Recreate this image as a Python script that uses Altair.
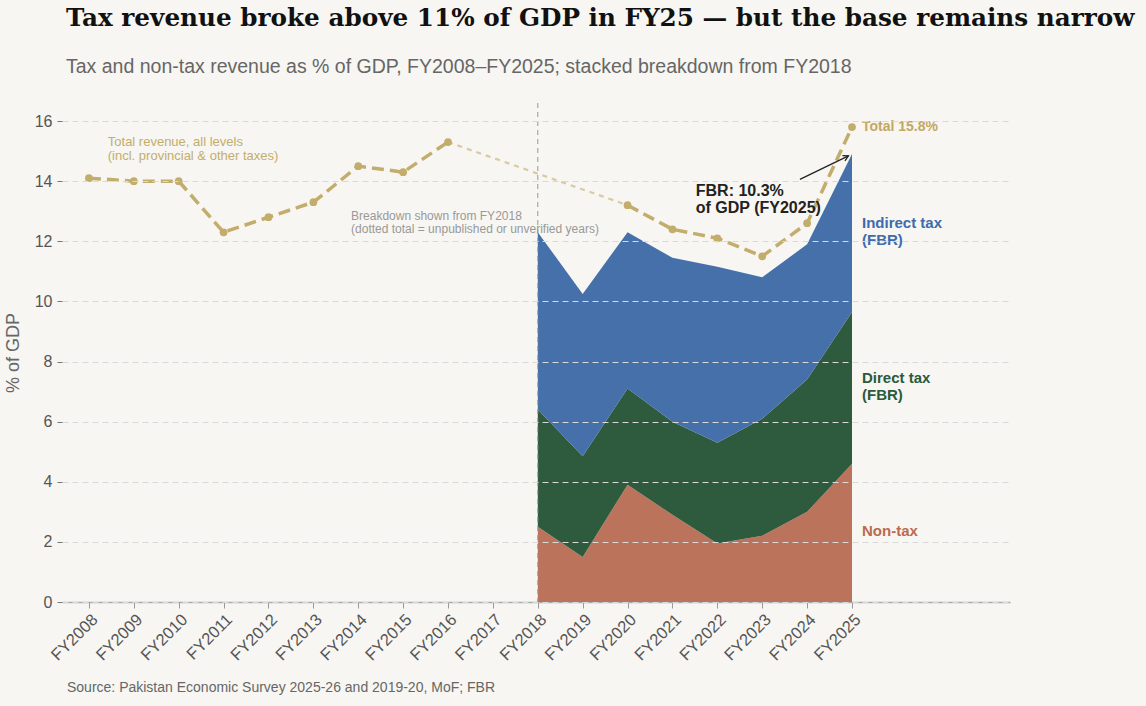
import altair as alt
import pandas as pd

# Total revenue (% of GDP), all levels of government
total_years = [2008, 2009, 2010, 2011, 2012, 2013, 2014, 2015, 2016,
               2020, 2021, 2022, 2023, 2024, 2025]
total_values = [14.1, 14.0, 14.0, 12.3, 12.8, 13.3, 14.5, 14.3, 15.3,
                13.2, 12.4, 12.1, 11.5, 12.6, 15.8]

# Stacked breakdown from FY2018 (% of GDP)
stack_years = [2018, 2019, 2020, 2021, 2022, 2023, 2024, 2025]
non_tax = [2.5, 1.5, 3.9, 2.9, 1.95, 2.2, 3.0, 4.6]
direct_tax = [3.9, 3.35, 3.2, 3.1, 3.35, 3.9, 4.4, 5.05]
indirect_tax = [5.9, 5.4, 5.2, 5.45, 5.85, 4.7, 4.5, 5.25]

components = ["Non-tax", "Direct tax", "Indirect tax"]
component_colors = ["#bc735b", "#2e5a3d", "#4570aa"]

tick_years = list(range(2008, 2026))
y_ticks = list(range(0, 17, 2))

GOLD = "#c3ad6c"
BG = "#f7f6f2"

x_scale = alt.Scale(domain=[2007.4, 2028.52], nice=False, zero=False)
y_scale = alt.Scale(domain=[0, 16.6], nice=False)

x_axis = alt.Axis(values=tick_years, labelExpr="'FY' + datum.value", labelAngle=-45,
                  labelOverlap=False, title=None, grid=False, tickColor="#999",
                  tickSize=6, domainColor="#aaa", domainWidth=1.5, labelColor="#555",
                  labelFontSize=16.5, labelPadding=3)
y_axis = alt.Axis(values=y_ticks, title="% of GDP", grid=True, gridDash=[6, 4],
                  gridColor="#d9d9d9", gridWidth=1, domain=False, tickColor="#777",
                  tickSize=5, labelColor="#555", labelFontSize=16, labelPadding=5,
                  titleColor="#666", titleFontSize=18, titleFontWeight="normal",
                  titlePadding=12, zindex=1)

X = alt.X("year:Q", scale=x_scale, axis=x_axis)
Y = alt.Y("value:Q", scale=y_scale, axis=y_axis)

# --- stacked areas ---
rows = []
for order, (name, series) in enumerate(zip(components, [non_tax, direct_tax, indirect_tax])):
    for yr, v in zip(stack_years, series):
        rows.append({"year": yr, "value": v, "component": name, "order": order})
stack_df = pd.DataFrame(rows)

areas = alt.Chart(stack_df).mark_area(opacity=1, interpolate="linear").encode(
    x=X,
    y=alt.Y("value:Q", stack="zero", scale=y_scale, axis=y_axis),
    color=alt.Color("component:N", scale=alt.Scale(domain=components, range=component_colors),
                    legend=None),
    order=alt.Order("order:Q", sort="ascending"),
)

# --- total revenue line ---
total_df = pd.DataFrame({"year": total_years, "value": total_values})
total_df["segment"] = ["early" if y <= 2016 else "late" for y in total_years]

total_line = alt.Chart(total_df).mark_line(
    color=GOLD, strokeWidth=3.5, strokeDash=[12, 6]
).encode(x=X, y=Y, detail="segment:N")

gap_df = total_df[total_df["year"].isin([2016, 2020])]
gap_line = alt.Chart(gap_df).mark_line(
    color=GOLD, strokeWidth=2.2, strokeDash=[5, 5], opacity=0.6
).encode(x=X, y=Y)

total_points = alt.Chart(total_df).mark_circle(color=GOLD, size=60, opacity=1).encode(x=X, y=Y)

# --- FY2018 divider ---
divider = alt.Chart(pd.DataFrame({"year": [2018]})).mark_rule(
    color="#999", strokeDash=[5, 4], strokeWidth=1
).encode(x=X)

# --- annotation arrow to the FBR share ---
arrow_df = pd.DataFrame({"year": [2023.84], "value": [14.06],
                         "year2": [2024.92], "value2": [14.84]})
arrow_line = alt.Chart(arrow_df).mark_rule(color="#222", strokeWidth=1.2).encode(
    x=X, y=Y, x2="year2:Q", y2="value2:Q")
arrow_head = alt.Chart(pd.DataFrame({"year": [2024.92], "value": [14.84]})).mark_point(
    shape="M -0.55 1 L 0 0 L 0.55 1", filled=False, angle=64, size=110,
    strokeWidth=1.3, color="#222", opacity=1
).encode(x=X, y=Y)


def text_layer(rows, **mark):
    df = pd.DataFrame(rows, columns=["label", "year", "value"])
    return alt.Chart(df).mark_text(align="left", baseline="middle", **mark).encode(
        x=X, y=Y, text="label:N")


fbr_share = direct_tax[-1] + indirect_tax[-1]

notes_total = text_layer(
    [["Total revenue, all levels", 2008.42, 15.31],
     ["(incl. provincial & other taxes)", 2008.42, 14.85]],
    fontSize=13, color=GOLD)
notes_breakdown = text_layer(
    [["Breakdown shown from FY2018", 2013.84, 12.83],
     ["(dotted total = unpublished or unverified years)", 2013.84, 12.40]],
    fontSize=12, color="#999")
notes_fbr = text_layer(
    [[f"FBR: {fbr_share:.1f}%", 2021.52, 13.68],
     ["of GDP (FY2025)", 2021.52, 13.11]],
    fontSize=16, fontWeight="bold", color="#222")
label_total = text_layer(
    [[f"Total {total_values[-1]}%", 2025, total_values[-1]]],
    fontSize=14, fontWeight="bold", color="#c2a862", dx=10)
label_indirect = text_layer(
    [["Indirect tax", 2025, 12.61], ["(FBR)", 2025, 12.04]],
    fontSize=15, fontWeight="bold", color="#3d6bab", dx=10)
label_direct = text_layer(
    [["Direct tax", 2025, 7.45], ["(FBR)", 2025, 6.89]],
    fontSize=15, fontWeight="bold", color="#2a5a3a", dx=10)
label_nontax = text_layer(
    [["Non-tax", 2025, 2.36]],
    fontSize=15, fontWeight="bold", color="#bc6a4f", dx=10)

source = alt.Chart(pd.DataFrame({"label": ["Source: Pakistan Economic Survey 2025-26 and 2019-20, MoF; FBR"]})).mark_text(
    align="left", baseline="middle", fontSize=14, color="#666"
).encode(x=alt.value(5), y=alt.value(585), text="label:N")

chart = alt.layer(
    areas, divider, gap_line, total_line, total_points, arrow_line, arrow_head,
    notes_total, notes_breakdown, notes_fbr,
    label_total, label_indirect, label_direct, label_nontax, source,
).properties(
    width=948,
    height=499,
    padding={"left": 62, "top": 103, "right": 136, "bottom": 104},
    autosize=alt.AutoSizeParams(type="none"),
    background=BG,
    title=alt.TitleParams(
        text="Tax revenue broke above 11% of GDP in FY25 — but the base remains narrow",
        subtitle="Tax and non-tax revenue as % of GDP, FY2008–FY2025; stacked breakdown from FY2018",
        anchor="start", frame="group", dx=4, offset=26,
        font="DejaVu Serif", fontSize=24.7, fontWeight="bold", color="#111",
        subtitleFont="Liberation Sans", subtitleFontSize=19.5, subtitleColor="#666",
        subtitlePadding=27,
    ),
).configure(font="Liberation Sans").configure_view(strokeWidth=0)

chart.save("out.html", embed_options={"renderer": "svg", "actions": False})
